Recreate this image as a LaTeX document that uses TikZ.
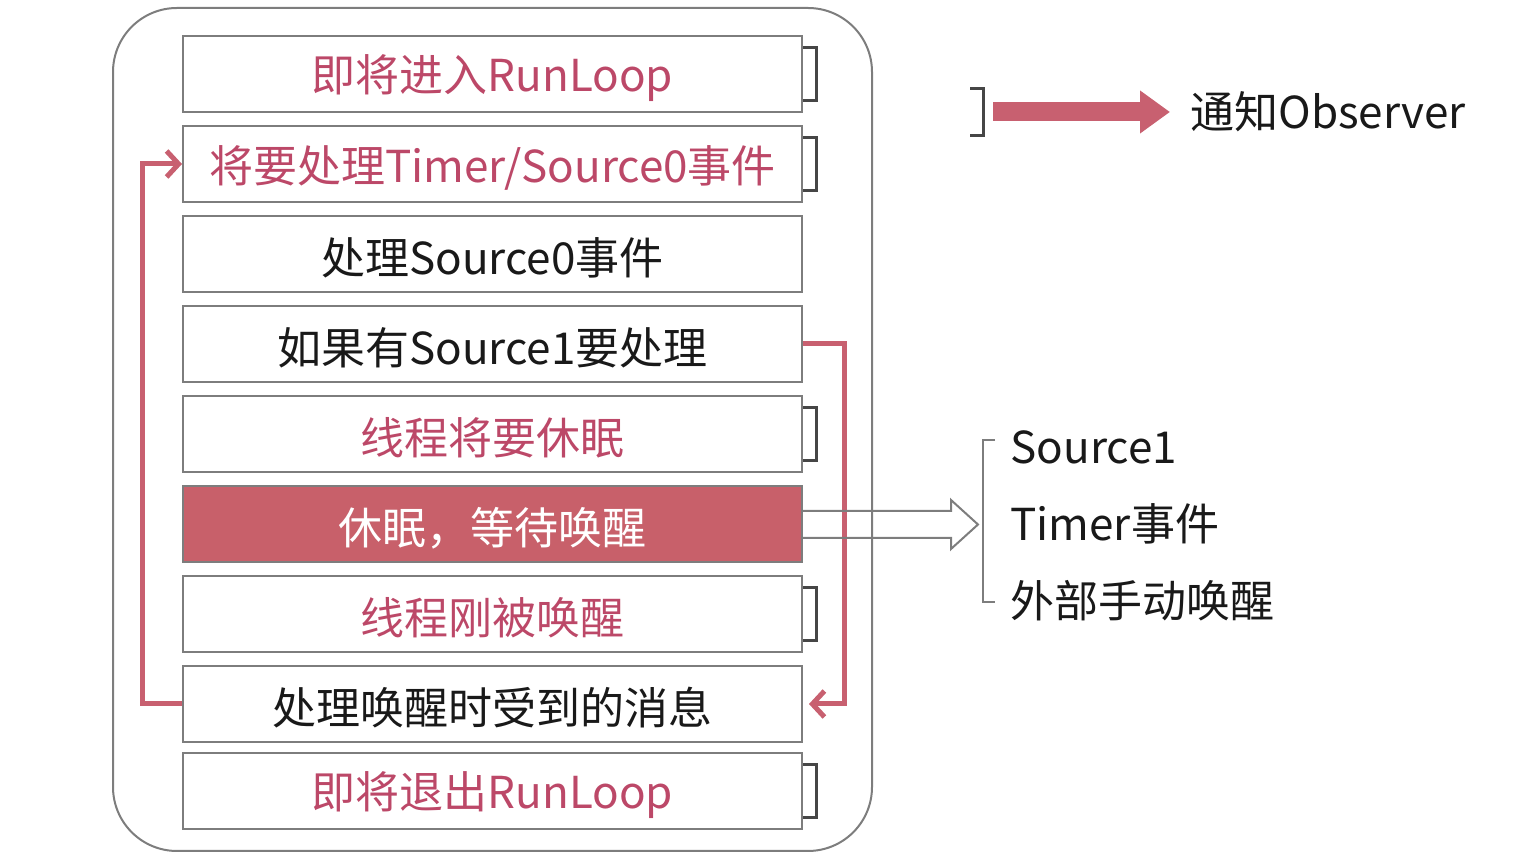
\documentclass[tikz,border=0pt]{standalone}
\usepackage{fontspec}
\setmainfont{Noto Sans CJK SC}
\usetikzlibrary{arrows.meta,calc}
\definecolor{rtext}{RGB}{188,72,104}
\definecolor{rfill}{RGB}{200,96,106}
\definecolor{rline}{RGB}{200,96,112}
\definecolor{gline}{RGB}{125,125,125}
\definecolor{dline}{RGB}{70,70,70}
\definecolor{btext}{RGB}{25,25,25}
\newcommand{\lowt}[1]{\raisebox{-2pt}[\height][\depth]{#1}}
\tikzset{
  stepbox/.style={draw=gline, line width=1pt, minimum width=309.5pt, minimum height=38pt, inner sep=0pt, font=\fontsize{22pt}{26pt}\selectfont},
  redtxt/.style={text=rtext},
  blktxt/.style={text=btext},
  brk/.style={draw=dline, line width=1.5pt},
  lbrk/.style={draw=gline, line width=1pt},
  loopline/.style={draw=rline, line width=2.5pt, -{Straight Barb[length=6pt,width=13pt,line width=2.5pt]}},
  sidetxt/.style={anchor=west, inner sep=0pt, text=btext, font=\fontsize{22pt}{26pt}\selectfont},
}
\begin{document}
\begin{tikzpicture}[x=0.5pt,y=-0.5pt]
\useasboundingbox (0,0) rectangle (1522,854);
% outer rounded frame
\draw[gline, line width=1pt, rounded corners=32pt] (113,8) rectangle (872,851);
% step boxes
\node[stepbox, redtxt] (b1) at (492.5,74) {\lowt{即将进入RunLoop}};
\node[stepbox, redtxt] (b2) at (492.5,164) {\lowt{将要处理Timer/Source0事件}};
\node[stepbox, blktxt] (b3) at (492.5,254) {\lowt{处理Source0事件}};
\node[stepbox, blktxt] (b4) at (492.5,344) {\lowt{如果有Source1要处理}};
\node[stepbox, redtxt] (b5) at (492.5,434) {\lowt{线程将要休眠}};
\node[stepbox, fill=rfill, text=white] (b6) at (492.5,524.5) {\lowt{休眠，等待唤醒}};
\node[stepbox, redtxt] (b7) at (492.5,614) {\lowt{线程刚被唤醒}};
\node[stepbox, blktxt] (b8) at (492.5,704) {\lowt{处理唤醒时受到的消息}};
\node[stepbox, redtxt] (b9) at (492.5,791) {\lowt{即将退出RunLoop}};
% observer brackets
\foreach \b in {b1,b2,b5,b7,b9}{
  \draw[brk] ([yshift=13.25pt]\b.east) -- ++(6.5pt,0) -- ++(0,-26.5pt) -- ++(-6.5pt,0);
}
% loops
\draw[loopline] (b8.west) -- ++(-20pt,0) |- (b2.west);
\draw[loopline] (b4.east) -- ++(20.5pt,0) |- ([xshift=3pt]b8.east);
% hollow arrow from sleeping box
\draw[gline, line width=1pt] ([yshift=6.75pt]b6.east) -- ++(74pt,0) -- ++(0,5.5pt) -- ++(13.5pt,-12.25pt) -- ++(-13.5pt,-12.25pt) -- ++(0,5.5pt) -- ++(-74pt,0);
% wake sources bracket and texts
\coordinate (wb) at (983,521);
\draw[lbrk] ([xshift=6pt,yshift=40.5pt]wb) -- ++(-6pt,0) -- ++(0,-81pt) -- ++(6pt,0);
\node[sidetxt] (s1) at (1010,447) {Source1};
\node[sidetxt] (s2) at (1010,524) {Timer事件};
\node[sidetxt] (s3) at (1010,601) {外部手动唤醒};
% legend
\coordinate (lb) at (970,112);
\draw[brk] ([yshift=11.75pt]lb) -- ++(6.5pt,0) -- ++(0,-23.5pt) -- ++(-6.5pt,0);
\node[sidetxt] (obs) at (1190,112) {通知Observer};
\draw[draw=rline, line width=9.5pt, -{Triangle[length=15pt,width=20.5pt]}] ([xshift=11.5pt]lb) -- ([xshift=-10pt]obs.west);
\end{tikzpicture}
\end{document}
